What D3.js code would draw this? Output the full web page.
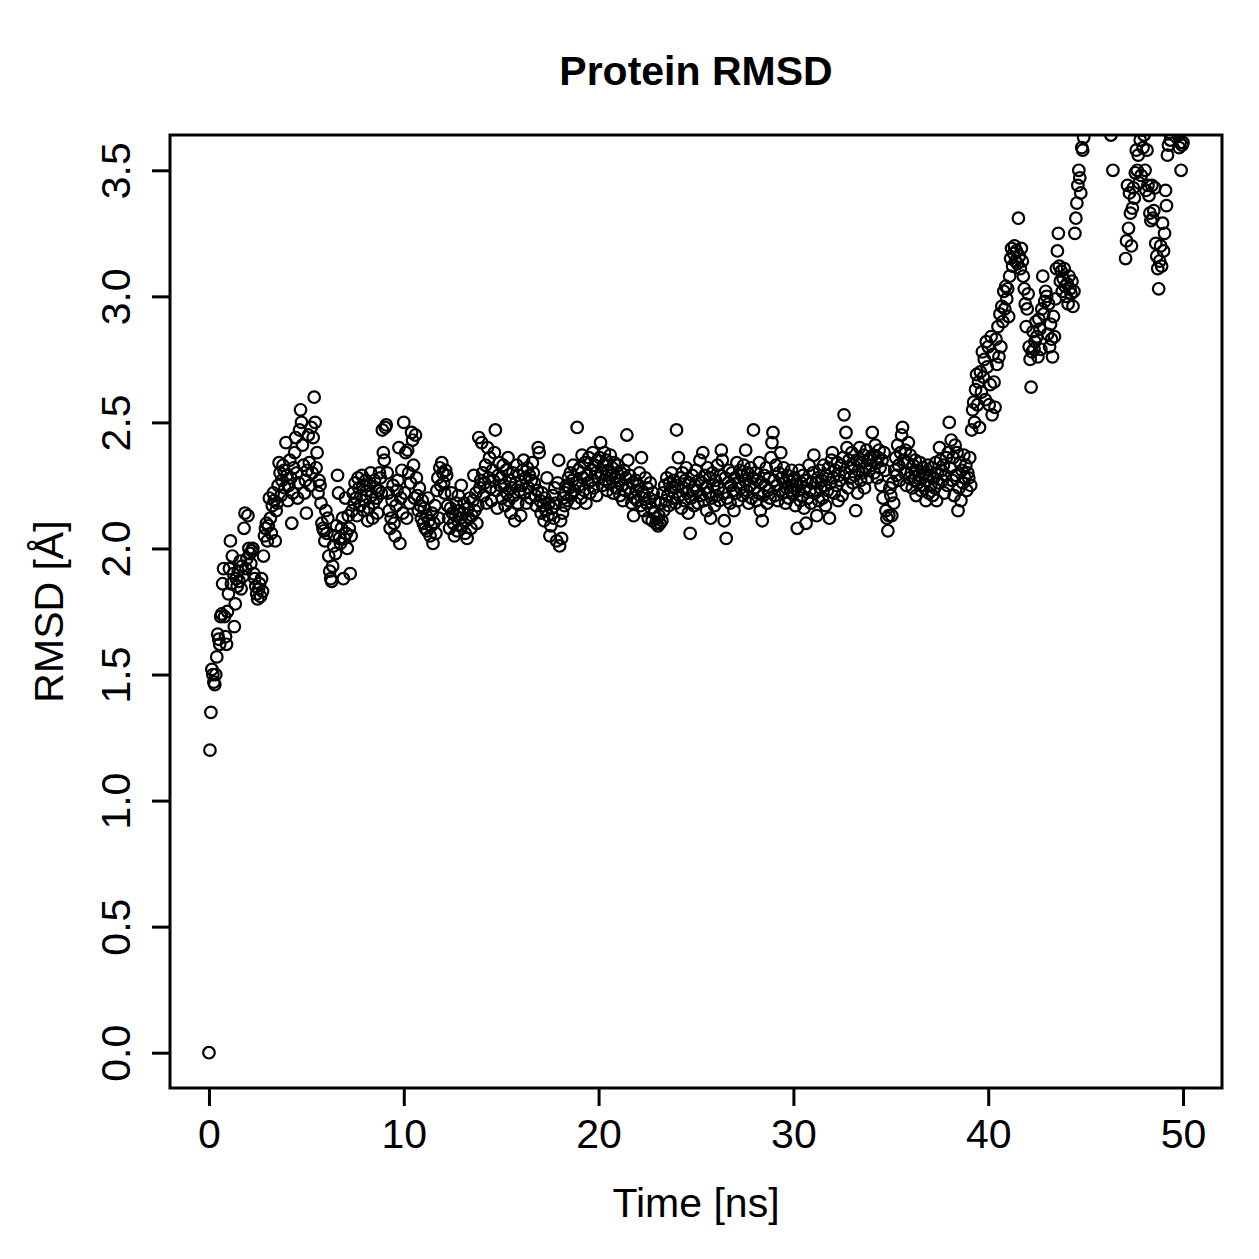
<!DOCTYPE html>
<meta charset="utf-8">
<style type="text/css">
body {
  margin: 0;
  background: #fff;
  font-family: "Liberation Sans", Arial, sans-serif;
}

.axis text {
  font-size: 41px;
  fill: #000;
}

.axis path {
  display: none;
}

.axis line {
  stroke: #000;
  stroke-width: 3px;
}

.label {
  font-size: 41px;
}

.title {
  font-size: 41px;
  font-weight: bold;
}

circle {
  fill: none;
  stroke: #000;
  stroke-width: 2.2px;
}
</style>
<body>
</body>

<script src="https://cdn.jsdelivr.net/npm/d3@7"></script>
<script>
// one frame every 0.05 ns, 0 - 50 ns
var sampleInterval = 0.05;

var rmsd0to10 = [
  0.00, 1.20, 1.35, 1.52, 1.50, 1.47, 1.46, 1.50, 1.57, 1.66, 1.64, 1.62, 1.73, 1.74, 1.86, 1.92, 1.73, 1.65, 1.62, 1.75,
  1.82, 1.92, 2.03, 1.86, 1.97, 1.90, 1.69, 1.78, 1.88, 1.85, 1.91, 1.87, 1.95, 1.84, 1.93, 1.89, 2.08, 2.14, 1.92, 1.96,
  2.13, 2.00, 1.98, 1.94, 1.99, 2.00, 1.90, 1.88, 1.85, 1.82, 1.80, 1.84, 1.86, 1.81, 1.88, 1.83, 1.97, 2.05, 2.08, 2.10,
  2.03, 2.09, 2.20, 2.12, 2.06, 2.17, 2.22, 2.19, 2.03, 2.15, 2.18, 2.25, 2.34, 2.30, 2.21, 2.27, 2.33, 2.31, 2.24, 2.42,
  2.29, 2.19, 2.25, 2.35, 2.28, 2.10, 2.22, 2.32, 2.38, 2.44, 2.30, 2.20, 2.26, 2.47, 2.55, 2.50, 2.41, 2.33, 2.22, 2.27,
  2.14, 2.31, 2.45, 2.34, 2.25, 2.48, 2.30, 2.44, 2.60, 2.50, 2.32, 2.38, 2.22, 2.27, 2.25, 2.18, 2.10, 2.08, 2.07, 2.03,
  2.15, 2.06, 2.12, 1.97, 1.91, 1.88, 1.87, 1.93, 2.01, 2.05, 1.98, 2.09, 2.29, 2.22, 2.04, 2.02, 2.08, 2.12, 1.88, 2.04,
  2.20, 2.06, 2.00, 2.13, 2.08, 1.90, 2.05, 2.15, 2.22, 2.18, 2.26, 2.20, 2.13, 2.28, 2.24, 2.17, 2.21, 2.29, 2.25, 2.15,
  2.19, 2.27, 2.23, 2.11, 2.16, 2.25, 2.30, 2.21, 2.12, 2.18, 2.27, 2.24, 2.20, 2.14, 2.23, 2.30, 2.28, 2.22, 2.47, 2.38,
  2.35, 2.48, 2.49, 2.30, 2.22, 2.15, 2.08, 2.12, 2.19, 2.25, 2.10, 2.05, 2.17, 2.23, 2.27, 2.40, 2.02, 2.20, 2.31, 2.14
];

var rmsd10to20 = [
  2.50, 2.22, 2.38, 2.12, 2.39, 2.30, 2.18, 2.26, 2.46, 2.43, 2.33, 2.20, 2.45, 2.28, 2.21, 2.15, 2.24, 2.17, 2.12, 2.19,
  2.10, 2.16, 2.08, 2.13, 2.07, 2.20, 2.11, 2.05, 2.09, 2.14, 2.02, 2.10, 2.17, 2.06, 2.23, 2.28, 2.12, 2.32, 2.25, 2.34,
  2.30, 2.26, 2.22, 2.31, 2.29, 2.17, 2.12, 2.08, 2.16, 2.22, 2.14, 2.10, 2.05, 2.13, 2.18, 2.07, 2.21, 2.15, 2.12, 2.25,
  2.09, 2.14, 2.18, 2.06, 2.11, 2.04, 2.16, 2.12, 2.20, 2.08, 2.13, 2.19, 2.29, 2.15, 2.22, 2.10, 2.17, 2.44, 2.24, 2.27,
  2.42, 2.30, 2.21, 2.26, 2.33, 2.18, 2.40, 2.28, 2.36, 2.24, 2.19, 2.31, 2.27, 2.38, 2.47, 2.23, 2.16, 2.29, 2.34, 2.25,
  2.28, 2.20, 2.33, 2.25, 2.17, 2.31, 2.22, 2.36, 2.19, 2.27, 2.14, 2.24, 2.30, 2.21, 2.11, 2.26, 2.33, 2.18, 2.29, 2.23,
  2.13, 2.25, 2.31, 2.35, 2.22, 2.28, 2.18, 2.32, 2.24, 2.29, 2.20, 2.27, 2.34, 2.30, 2.26, 2.21, 2.17, 2.23, 2.40, 2.38,
  2.19, 2.14, 2.22, 2.17, 2.11, 2.20, 2.15, 2.28, 2.13, 2.18, 2.05, 2.09, 2.16, 2.21, 2.12, 2.24, 2.18, 2.03, 2.26, 2.35,
  2.01, 2.11, 2.04, 2.14, 2.20, 2.17, 2.22, 2.25, 2.19, 2.28, 2.24, 2.30, 2.21, 2.27, 2.33, 2.23, 2.18, 2.26, 2.48, 2.31,
  2.25, 2.32, 2.20, 2.37, 2.28, 2.23, 2.34, 2.18, 2.29, 2.26, 2.36, 2.22, 2.31, 2.27, 2.38, 2.24, 2.33, 2.30, 2.21, 2.35
];

var rmsd20to30 = [
  2.28, 2.36, 2.42, 2.30, 2.25, 2.33, 2.38, 2.27, 2.35, 2.23, 2.31, 2.26, 2.37, 2.29, 2.32, 2.22, 2.34, 2.28, 2.24, 2.30,
  2.33, 2.27, 2.21, 2.30, 2.25, 2.19, 2.31, 2.23, 2.28, 2.45, 2.35, 2.24, 2.29, 2.22, 2.18, 2.26, 2.13, 2.20, 2.27, 2.23,
  2.19, 2.25, 2.30, 2.17, 2.36, 2.22, 2.15, 2.21, 2.28, 2.18, 2.24, 2.12, 2.20, 2.26, 2.16, 2.11, 2.22, 2.14, 2.19, 2.10,
  2.12, 2.09, 2.13, 2.10, 2.18, 2.11, 2.22, 2.15, 2.25, 2.19, 2.28, 2.21, 2.17, 2.26, 2.23, 2.30, 2.20, 2.27, 2.24, 2.18,
  2.47, 2.25, 2.36, 2.21, 2.28, 2.16, 2.30, 2.24, 2.19, 2.27, 2.32, 2.22, 2.14, 2.26, 2.06, 2.20, 2.29, 2.23, 2.17, 2.25,
  2.31, 2.23, 2.18, 2.27, 2.35, 2.21, 2.26, 2.38, 2.19, 2.29, 2.24, 2.15, 2.32, 2.22, 2.28, 2.12, 2.20, 2.30, 2.25, 2.17,
  2.27, 2.21, 2.33, 2.24, 2.19, 2.29, 2.39, 2.35, 2.22, 2.11, 2.28, 2.04, 2.20, 2.26, 2.31, 2.18, 2.25, 2.30, 2.23, 2.15,
  2.28, 2.22, 2.34, 2.19, 2.26, 2.31, 2.24, 2.29, 2.21, 2.33, 2.27, 2.39, 2.23, 2.30, 2.18, 2.25, 2.32, 2.20, 2.28, 2.47,
  2.24, 2.30, 2.19, 2.27, 2.22, 2.34, 2.15, 2.26, 2.11, 2.21, 2.29, 2.25, 2.32, 2.18, 2.23, 2.28, 2.20, 2.36, 2.42, 2.46,
  2.27, 2.21, 2.33, 2.25, 2.19, 2.30, 2.23, 2.38, 2.28, 2.22, 2.32, 2.26, 2.18, 2.24, 2.29, 2.20, 2.27, 2.23, 2.31, 2.25
];

var rmsd30to40 = [
  2.22, 2.28, 2.17, 2.25, 2.08, 2.23, 2.31, 2.19, 2.26, 2.21, 2.29, 2.16, 2.24, 2.10, 2.27, 2.20, 2.33, 2.23, 2.18, 2.26,
  2.30, 2.37, 2.22, 2.26, 2.13, 2.28, 2.19, 2.31, 2.24, 2.27, 2.20, 2.33, 2.25, 2.17, 2.29, 2.23, 2.32, 2.12, 2.26, 2.35,
  2.38, 2.28, 2.22, 2.31, 2.25, 2.34, 2.19, 2.29, 2.27, 2.33, 2.21, 2.36, 2.53, 2.30, 2.46, 2.40, 2.24, 2.35, 2.28, 2.32,
  2.38, 2.26, 2.33, 2.29, 2.15, 2.35, 2.22, 2.31, 2.40, 2.27, 2.34, 2.30, 2.37, 2.24, 2.32, 2.39, 2.28, 2.35, 2.31, 2.36,
  2.33, 2.46, 2.37, 2.30, 2.41, 2.34, 2.28, 2.36, 2.39, 2.32, 2.25, 2.35, 2.20, 2.38, 2.31, 2.15, 2.12, 2.07, 2.13, 2.24,
  2.21, 2.13, 2.26, 2.18, 2.31, 2.36, 2.29, 2.41, 2.33, 2.27, 2.38, 2.45, 2.48, 2.35, 2.30, 2.39, 2.25, 2.34, 2.42, 2.28,
  2.37, 2.30, 2.24, 2.33, 2.27, 2.35, 2.21, 2.31, 2.26, 2.29, 2.34, 2.23, 2.28, 2.32, 2.25, 2.30, 2.19, 2.27, 2.33, 2.22,
  2.29, 2.25, 2.32, 2.21, 2.28, 2.24, 2.34, 2.19, 2.30, 2.26, 2.40, 2.35, 2.31, 2.27, 2.33, 2.22, 2.29, 2.36, 2.25, 2.38,
  2.50, 2.32, 2.43, 2.27, 2.36, 2.21, 2.41, 2.29, 2.38, 2.15, 2.24, 2.34, 2.19, 2.31, 2.26, 2.37, 2.28, 2.33, 2.23, 2.30,
  2.28, 2.36, 2.25, 2.47, 2.55, 2.58, 2.50, 2.63, 2.69, 2.57, 2.66, 2.48, 2.70, 2.62, 2.78, 2.68, 2.75, 2.59, 2.82, 2.72
];

var rmsd40to50 = [
  2.80, 2.57, 2.65, 2.84, 2.53, 2.77, 2.66, 2.56, 2.83, 2.73, 2.88, 2.76, 2.93, 2.80, 2.96, 2.90, 3.02, 2.95, 3.04, 2.99,
  3.03, 2.92, 3.08, 3.15, 3.19, 3.12, 3.17, 3.20, 3.14, 3.18, 3.13, 3.31, 3.16, 3.11, 3.19, 3.14, 3.08, 3.03, 2.97, 2.88,
  2.95, 3.01, 2.80, 2.75, 2.64, 2.78, 2.86, 2.79, 2.82, 2.90, 2.84, 2.76, 2.91, 2.87, 2.79, 2.95, 3.08, 2.93, 2.98, 3.02,
  3.00, 2.85, 2.97, 2.80, 2.89, 2.83, 2.76, 2.92, 2.84, 2.99, 3.11, 3.18, 3.25, 3.12, 3.06, 3.10, 3.02, 3.07, 3.11, 3.04,
  3.00, 3.05, 2.97, 3.08, 3.03, 3.01, 3.06, 2.96, 3.02, 3.25, 3.31, 3.37, 3.44, 3.50, 3.47, 3.41, 3.59, 3.58, 3.63, 3.70,
  3.72, 3.78, 3.70, 3.82, 3.75, 3.80, 3.77, 3.85, 3.73, 3.79, 3.83, 3.76, 3.81, 3.74, 3.86, 3.78, 3.72, 3.80, 3.75, 3.84,
  3.75, 3.80, 3.72, 3.78, 3.70, 3.82, 3.64, 3.76, 3.50, 3.73, 3.79, 3.71, 3.77, 3.68, 3.81, 3.74, 3.70, 3.78, 3.69, 3.76,
  3.68, 3.15, 3.22, 3.44, 3.27, 3.41, 3.33, 3.20, 3.35, 3.43, 3.39, 3.49, 3.58, 3.50, 3.56, 3.45, 3.62, 3.48, 3.66, 3.59,
  3.64, 3.50, 3.42, 3.58, 3.44, 3.40, 3.33, 3.30, 3.44, 3.31, 3.34, 3.43, 3.21, 3.16, 3.11, 3.03, 3.14, 3.20, 3.12, 3.29,
  3.18, 3.25, 3.42, 3.36, 3.56, 3.60, 3.65, 3.62, 3.70, 3.75, 3.68, 3.72, 3.78, 3.70, 3.66, 3.64, 3.59, 3.61, 3.50, 3.60,
  3.61
];

var xTicks = [0, 10, 20, 30, 40, 50];
var yTicks = [0.0, 0.5, 1.0, 1.5, 2.0, 2.5, 3.0, 3.5];

var titleText = "Protein RMSD";
var xLabel = "Time [ns]";
var yLabel = "RMSD [Å]";

var rmsd = rmsd0to10.concat(rmsd10to20, rmsd20to30, rmsd30to40, rmsd40to50);
var points = rmsd.map(function(v, i) {
  return { time: i * sampleInterval, rmsd: v };
});

// plot region in page pixels (window.top is reserved, so not "top")
var plotLeft = 170, plotRight = 1222, plotTop = 135, plotBottom = 1088;

var svg = d3.select("body")
  .append("svg")
    .attr("width", 1259)
    .attr("height", 1259);

// R style limits: xlim from data, ylim = c(0, 3.5), both padded by 4%
var xscale = d3.scaleLinear()
  .domain([-2, 52])
  .range([plotLeft, plotRight]);

var yscale = d3.scaleLinear()
  .domain([-0.14, 3.64])
  .range([plotBottom, plotTop]);

svg.append("clipPath")
    .attr("id", "plotclip")
  .append("rect")
    .attr("x", plotLeft)
    .attr("y", plotTop)
    .attr("width", plotRight - plotLeft)
    .attr("height", plotBottom - plotTop);

svg.append("g")
    .attr("clip-path", "url(#plotclip)")
  .selectAll("circle")
  .data(points)
  .enter().append("circle")
    .attr("cx", function(d) { return xscale(d.time); })
    .attr("cy", function(d) { return yscale(d.rmsd); })
    .attr("r", 5.8);

var xAxis = d3.axisBottom(xscale)
  .tickValues(xTicks)
  .tickSizeInner(18)
  .tickSizeOuter(0)
  .tickPadding(13)
  .tickFormat(d3.format("d"));

var yAxis = d3.axisLeft(yscale)
  .tickValues(yTicks)
  .tickSizeInner(18)
  .tickSizeOuter(0)
  .tickFormat(d3.format(".1f"));

svg.append("g")
  .attr("class", "x axis")
  .attr("transform", "translate(0," + plotBottom + ")")
  .call(xAxis);

var yg = svg.append("g")
  .attr("class", "y axis")
  .attr("transform", "translate(" + plotLeft + ",0)")
  .call(yAxis);

yg.selectAll("text")
  .attr("x", null)
  .attr("dy", null)
  .attr("text-anchor", "middle")
  .attr("transform", "translate(-40,0) rotate(-90)");

svg.selectAll(".axis").attr("font-family", null).attr("font-size", null);

// box around the plot
svg.append("rect")
  .attr("x", plotLeft)
  .attr("y", plotTop)
  .attr("width", plotRight - plotLeft)
  .attr("height", plotBottom - plotTop)
  .style("fill", "none")
  .style("stroke", "#000")
  .style("stroke-width", "3px");

svg.append("text")
  .attr("class", "title")
  .attr("x", (plotLeft + plotRight) / 2)
  .attr("y", 85)
  .attr("text-anchor", "middle")
  .text(titleText);

svg.append("text")
  .attr("class", "label")
  .attr("x", (plotLeft + plotRight) / 2)
  .attr("y", 1217)
  .attr("text-anchor", "middle")
  .text(xLabel);

svg.append("text")
  .attr("class", "label")
  .attr("text-anchor", "middle")
  .attr("transform", "translate(63," + ((plotTop + plotBottom) / 2) + ") rotate(-90)")
  .text(yLabel);
</script>
